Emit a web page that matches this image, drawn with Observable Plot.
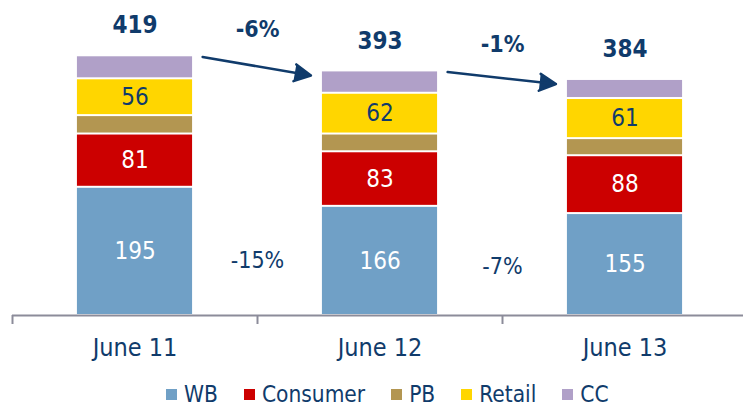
<!DOCTYPE html>
<html><head><meta charset="utf-8">
<script src="https://cdn.jsdelivr.net/npm/d3@7"></script>
<script src="https://cdn.jsdelivr.net/npm/@observablehq/plot@0.6"></script>
<style>
body{margin:0;background:#fff;width:743px;height:406px;overflow:hidden;font-family:"DejaVu Sans Condensed","DejaVu Sans",sans-serif;font-stretch:condensed;}
#legend{display:flex;align-items:center;height:28px;margin-top:8px;padding-left:166px;font-size:22.5px;line-height:28px;color:#103b6b;white-space:nowrap;}
.item{display:flex;align-items:center;margin-right:26px;}
.sw{width:11px;height:11px;margin-right:7px;flex:none;}
</style></head><body>
<div id="chart"></div><div id="legend"></div>
<script>
const categories = ["June 11", "June 12", "June 13"];
const series = ["WB", "Consumer", "PB", "Retail", "CC"];
const colors = ["#70a0c6", "#cc0000", "#b39651", "#ffd600", "#b0a0c8"];
const WB = [195, 166, 155];
const Consumer = [81, 83, 88];
const PB = [28, 27, 26];
const Retail = [56, 62, 61];
const CC = [35, 34, 29];
const totalLabels = ["419", "393", "384"];
const totalChange = ["-6%", "-1%"];
const wbChange = ["-15%", "-7%"];

const NAVY = "#103b6b";
const GREY = "#8c8c9a";
const FONT = "'DejaVu Sans Condensed','DejaVu Sans',sans-serif";
const valuesBySeries = {WB, Consumer, PB, Retail, CC};
const rows = series.flatMap(s => categories.map((c, k) => ({i: k + 1, category: c, series: s, value: valuesBySeries[s][k]})));
const tops = categories.map((c, k) => d3.sum(series, s => valuesBySeries[s][k]));
const half = 0.235;
const boundaries = d3.range(0.5, 3.6, 1);
const arrows = totalChange.map((d, k) => ({from: k + 1, to: k + 2, y1: tops[k], y2: tops[k + 1]}));

const chart = Plot.plot({
  width: 743, height: 372,
  marginTop: 52, marginBottom: 57, marginLeft: 12, marginRight: 0,
  x: {domain: [0.5, 3.5], range: [12, 747], label: null},
  y: {domain: [0, 400], axis: null, label: null},
  color: {domain: series, range: colors},
  style: `font-family: ${FONT}; font-stretch: condensed; background: white; overflow: visible;`,
  marks: [
    Plot.rectY(rows, {x1: d => d.i - half, x2: d => d.i + half, y: "value", fill: "series", insetTop: 1, insetBottom: 1}),
    Plot.ruleY([0], {stroke: GREY, strokeWidth: 2}),
    Plot.axisX({ticks: boundaries, tickSize: 9, tickFormat: () => "", label: null, stroke: GREY, strokeWidth: 2}),
    Plot.axisX({ticks: [1, 2, 3], tickSize: 0, tickPadding: 23, label: null, tickFormat: i => categories[i - 1], fontSize: 25, fill: NAVY}),
    Plot.text(rows, Plot.stackY({x: "i", y: "value", z: "series",
      text: d => (d.series === "WB" || d.series === "Consumer") ? String(d.value) : null,
      fill: "white", fontSize: 24})),
    Plot.text(rows, Plot.stackY({x: "i", y: "value", z: "series",
      text: d => d.series === "Retail" ? String(d.value) : null,
      fill: NAVY, fontSize: 24})),
    Plot.text(categories, {x: (d, k) => k + 1, y: (d, k) => tops[k], text: (d, k) => totalLabels[k], dy: -30, fontWeight: "bold", fontSize: 24, fill: NAVY}),
    Plot.text(totalChange, {x: (d, k) => k + 1.5, y: (d, k) => tops[k], text: d => d, dy: -26, fontWeight: "bold", fontSize: 23, fill: NAVY}),
    Plot.text(wbChange, {x: (d, k) => k + 1.5, y: (d, k) => (WB[k] + WB[k + 1]) / 4, text: d => d, dy: 4, fontSize: 23, fill: NAVY}),
    Plot.arrow(arrows, {x1: d => d.from + half + 0.041, y1: d => d.y1 - 1.8, x2: d => d.to - half - 0.047, y2: d => d.y2 - 7,
      stroke: NAVY, fill: NAVY, strokeWidth: 2.5, headLength: 11, headAngle: 55})
  ]
});
document.getElementById("chart").appendChild(chart);

const legend = document.getElementById("legend");
series.forEach((s, k) => {
  const item = document.createElement("div");
  item.className = "item";
  const sw = document.createElement("span");
  sw.className = "sw";
  sw.style.background = colors[k];
  const label = document.createElement("span");
  label.textContent = s;
  item.appendChild(sw);
  item.appendChild(label);
  legend.appendChild(item);
});
</script>
</body></html>
